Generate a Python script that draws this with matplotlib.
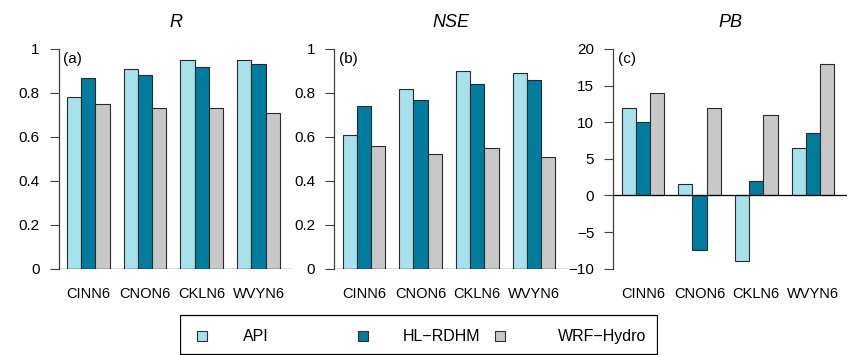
import matplotlib.pyplot as plt
from matplotlib.patches import Rectangle

plt.rcParams['font.family'] = ['Liberation Sans', 'DejaVu Sans']

stations = ['CINN6', 'CNON6', 'CKLN6', 'WVYN6']
models = ['API', 'HL\u2212RDHM', 'WRF\u2212Hydro']
colors = ['#a6e1ec', '#007c9e', '#c8c8c8']

r_vals = [[0.78, 0.91, 0.95, 0.95],
          [0.87, 0.88, 0.92, 0.93],
          [0.75, 0.73, 0.73, 0.71]]
nse_vals = [[0.61, 0.82, 0.90, 0.89],
            [0.74, 0.77, 0.84, 0.86],
            [0.56, 0.52, 0.55, 0.51]]
pb_vals = [[12, 1.6, -9, 6.5],
           [10, -7.5, 2, 8.5],
           [14, 12, 11, 18]]

W, H = 848, 355
fig = plt.figure(figsize=(W / 100, H / 100), dpi=100)

panels = [
    ('R', '(a)', r_vals, 58.5, (0, 1), [0, 0.2, 0.4, 0.6, 0.8, 1], ['0', '0.2', '0.4', '0.6', '0.8', '1']),
    ('NSE', '(b)', nse_vals, 334, (0, 1), [0, 0.2, 0.4, 0.6, 0.8, 1], ['0', '0.2', '0.4', '0.6', '0.8', '1']),
    ('PB', '(c)', pb_vals, 613, (-10, 20), [-10, -5, 0, 5, 10, 15, 20], ['\u221210', '\u22125', '0', '5', '10', '15', '20']),
]

top_px, bot_px = 49, 268.7
width_px = 234

for title, tag, vals, left_px, ylim, yt, ytl in panels:
    ax = fig.add_axes([left_px / W, (H - bot_px) / H, width_px / W, (bot_px - top_px) / H])
    # R-style barplot: bar width 1, gap 1 between groups
    for j, series in enumerate(vals):
        xs = [1 + 4 * i + j for i in range(len(stations))]
        ax.bar(xs, series, width=1, align='edge', color=colors[j],
               edgecolor='#2a2a2a', linewidth=0.8, zorder=2)
    ax.axhline(0, color='black', linewidth=0.9, zorder=3)
    ax.set_xlim(0.4, 16.9)
    ax.set_ylim(*ylim)
    ax.set_yticks(yt, ytl)
    ax.set_xticks([2.5 + 4 * i for i in range(len(stations))], stations)
    for s in ['top', 'right', 'bottom']:
        ax.spines[s].set_visible(False)
    ax.spines['left'].set_color('#404040')
    ax.spines['left'].set_linewidth(0.9)
    ax.tick_params(axis='y', length=6.5, width=0.8, color='#404040', labelsize=11, pad=7)
    ax.tick_params(axis='x', length=0, labelsize=10.5, pad=13)
    ax.set_title(title, fontstyle='italic', fontsize=13, pad=16)
    ax.text(0.02, 0.985, tag, transform=ax.transAxes, ha='left', va='top', fontsize=11)

# legend box drawn in pixel coordinates
lax = fig.add_axes([180 / W, 0, (658 - 180) / W, (H - 314) / H])
lax.set_xlim(180, 658)
lax.set_ylim(H, 314)
lax.axis('off')
lax.add_patch(Rectangle((180.5, 314.5), 477, 39.5, fill=False, edgecolor='black', linewidth=0.9))
sq_x = [197, 358, 495]
txt_x = [243, 403, 558]
for j, name in enumerate(models):
    lax.add_patch(Rectangle((sq_x[j], 331), 10, 10, facecolor=colors[j],
                            edgecolor='#303030', linewidth=0.8))
    lax.text(txt_x[j], 336.5, name, ha='left', va='center', fontsize=11.5)

fig.savefig('out.png', dpi=100)
